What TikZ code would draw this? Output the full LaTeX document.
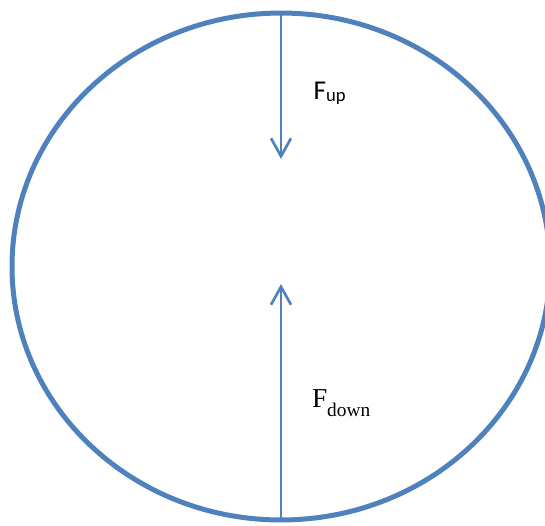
\documentclass[tikz,border=0pt]{standalone}
\usepackage{fontspec}
\setmainfont{Liberation Serif}
\newfontfamily\calibfont{Carlito}
\usetikzlibrary{arrows.meta}
\definecolor{officeblue}{HTML}{4F81BD}
\tikzset{
  rim/.style={draw=officeblue, line width=3.75pt},
  force/.style={draw=officeblue, line width=2pt, -{Straight Barb[length=13.5pt, width=15pt]}},
  lab/.style={anchor=base west, inner sep=0pt, outer sep=0pt}
}
\begin{document}
\begin{tikzpicture}[x=0.75pt, y=-0.75pt]
\useasboundingbox (0,0) rectangle (545,525);
\begin{scope}
\clip (0,0) rectangle (545,525);
\draw[rim] (281,266.5) ellipse [x radius=201.75pt, y radius=190.1pt];
\end{scope}
\coordinate (top) at (281,13);
\coordinate (toptip) at (281,159);
\coordinate (bot) at (281,520);
\coordinate (bottip) at (281,284);
\draw[force] (top) -- (toptip);
\draw[force] (bot) -- (bottip);
\node[lab] (fup) at (313.5,99.3) {\calibfont\fontsize{20.4pt}{22pt}\selectfont F\raisebox{-2pt}{\fontsize{14pt}{15pt}\selectfont up}};
\node[lab] (fdown) at (312,407.3) {\fontsize{20.5pt}{22pt}\selectfont F\raisebox{-7pt}{\fontsize{14.5pt}{16pt}\selectfont down}};
\end{tikzpicture}
\end{document}
